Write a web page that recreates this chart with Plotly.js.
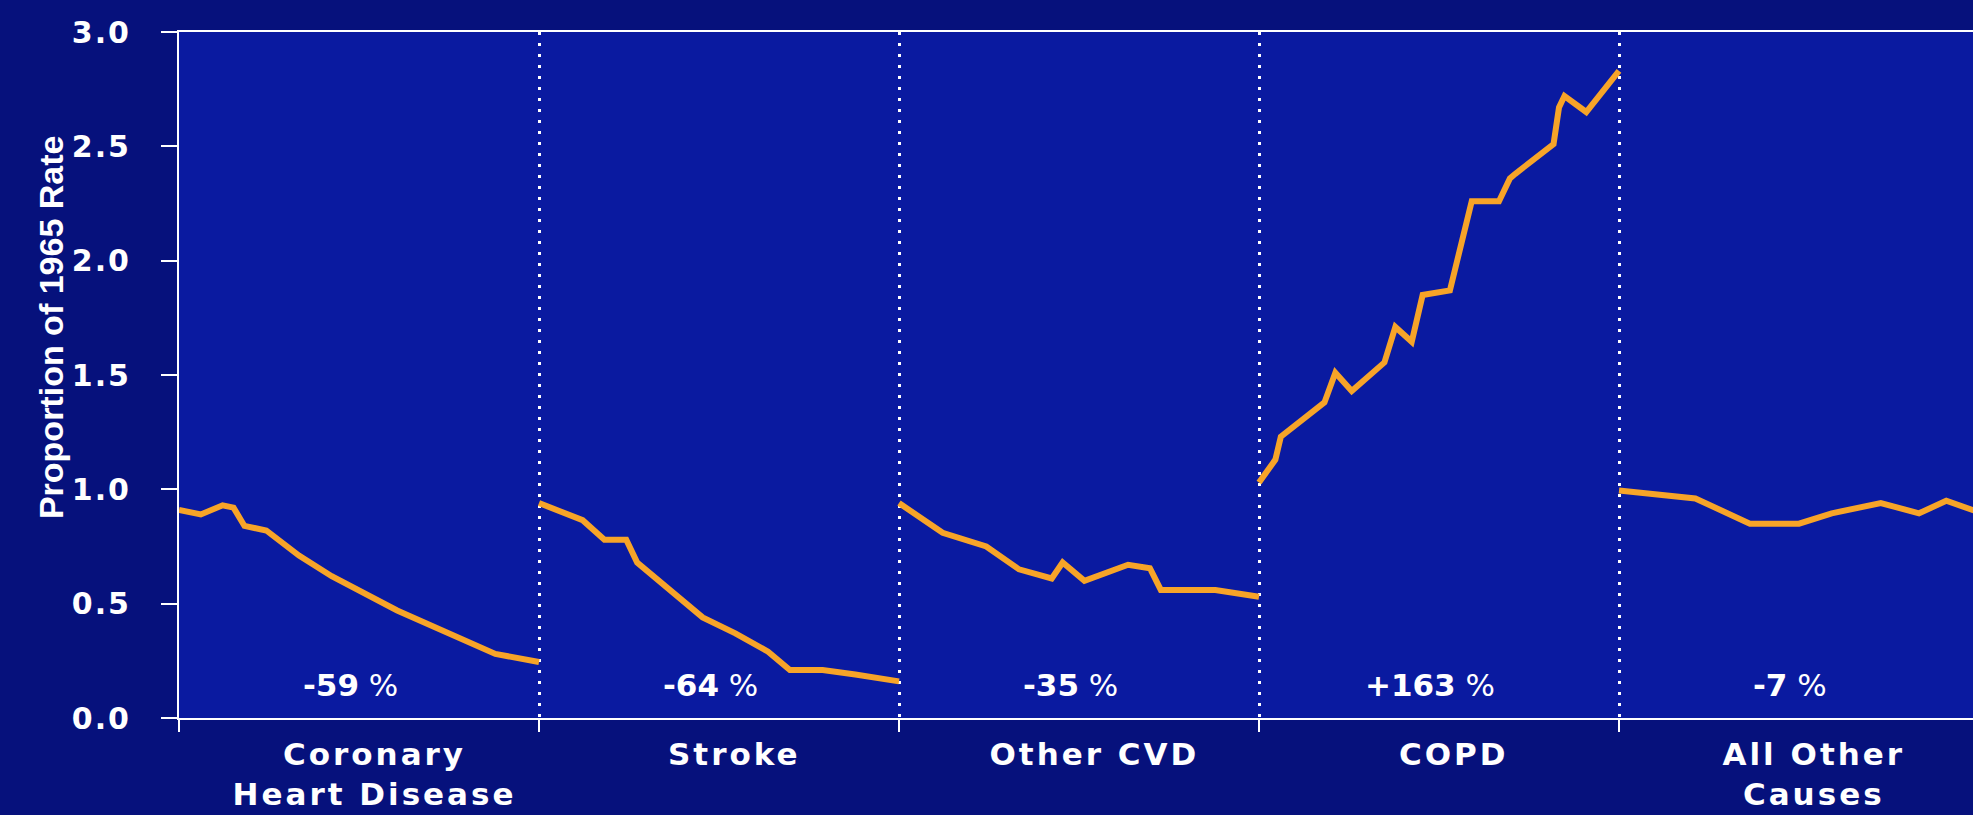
<!DOCTYPE html>
<html>
<head>
<meta charset="utf-8">
<script src="https://cdn.plot.ly/plotly-3.0.1.min.js"></script>
<style>
html, body { margin: 0; padding: 0; background: #06127e; }
#chart { width: 1973px; height: 815px; }
/* category labels are annotations 0-4, they are drawn wide */
.annotation[data-index="0"] text,
.annotation[data-index="1"] text,
.annotation[data-index="2"] text,
.annotation[data-index="3"] text,
.annotation[data-index="4"] text { letter-spacing: 3px; }
.ytick text { letter-spacing: 2px; }
</style>
</head>
<body>
<div id="chart"></div>
<script>
// categories and the change label shown in each panel
var causes = ["Coronary<br>Heart Disease", "Stroke", "Other CVD", "COPD", "All Other<br>Causes"];
var pctChange = ["-59", "-64", "-35", "+163", "-7"];

// proportion of the 1965 rate
var chdYears = [1965, 1967, 1969, 1970, 1971, 1973, 1976, 1979, 1985, 1991, 1994, 1998];
var chdRate = [0.91, 0.89, 0.93, 0.92, 0.84, 0.82, 0.71, 0.62, 0.47, 0.34, 0.28, 0.245];

var strokeYears = [1965, 1969, 1971, 1973, 1974, 1977, 1980, 1983, 1986, 1988, 1991, 1994, 1998];
var strokeRate = [0.94, 0.865, 0.78, 0.78, 0.68, 0.56, 0.44, 0.37, 0.29, 0.21, 0.21, 0.19, 0.16];

var cvdYears = [1965, 1969, 1973, 1976, 1979, 1980, 1982, 1986, 1988, 1989, 1994, 1998];
var cvdRate = [0.94, 0.81, 0.75, 0.65, 0.61, 0.68, 0.60, 0.67, 0.655, 0.56, 0.56, 0.53];

var copdYears = [1965, 1966.5, 1967, 1971, 1972, 1973.5, 1976.5, 1977.5, 1979, 1980, 1982.5, 1984.5, 1987, 1988, 1988.5, 1992, 1992.5, 1993, 1995, 1998];
var copdRate = [1.03, 1.13, 1.23, 1.38, 1.51, 1.43, 1.555, 1.71, 1.645, 1.85, 1.87, 2.26, 2.26, 2.36, 2.38, 2.51, 2.67, 2.72, 2.65, 2.83];

var otherYears = [1965, 1968, 1972, 1977, 1981.5, 1984.5, 1989, 1992.5, 1995, 1998];
var otherRate = [0.995, 0.98, 0.96, 0.85, 0.85, 0.895, 0.94, 0.895, 0.95, 0.90];

var allYears = [chdYears, strokeYears, cvdYears, copdYears, otherYears];
var allRates = [chdRate, strokeRate, cvdRate, copdRate, otherRate];

var startYear = 1965;
var span = 33; // 1965-1998, one panel each

var data = [];
allYears.forEach(function (yrs, i) {
  data.push({
    x: yrs.map(function (y) { return i * span + (y - startYear); }),
    y: allRates[i],
    type: "scatter",
    mode: "lines",
    line: { color: "#f7a428", width: 6 },
    hoverinfo: "skip"
  });
});

var bounds = causes.map(function (c, i) { return i * span; }).concat([causes.length * span]);
var centers = causes.map(function (c, i) { return i * span + span / 2; });
var xRange = [0, causes.length * span * 1794 / 1800];

// category names under the axis (indexes 0-4)
var annotations = causes.map(function (c, i) {
  return {
    x: centers[i], y: 0, xref: "x", yref: "paper",
    yanchor: "top", yshift: -16, xshift: 15,
    text: c, showarrow: false,
    font: { family: "DejaVu Sans", size: 31, color: "white", weight: "bold" }
  };
});
pctChange.forEach(function (p, i) {
  annotations.push({
    x: centers[i], y: 0.144, xref: "x", yref: "y",
    text: "<b>" + p + "</b> %",
    showarrow: false, xshift: -9,
    font: { family: "DejaVu Sans", size: 31, color: "white" }
  });
});
annotations.push({
  x: -0.083, y: 0.57, xref: "paper", yref: "paper",
  text: "Proportion of 1965 Rate",
  textangle: -90, showarrow: false,
  font: { family: "Liberation Sans", size: 34, color: "white", weight: "bold" }
});

var layout = {
  width: 1973, height: 815,
  margin: { l: 179, r: 0, t: 32, b: 97 },
  paper_bgcolor: "#06117c",
  plot_bgcolor: "#0a1aa0",
  showlegend: false,
  xaxis: {
    range: xRange,
    tickvals: bounds,
    showticklabels: false,
    ticks: "outside", ticklen: 12, tickwidth: 2, tickcolor: "white",
    showline: true, linecolor: "white", linewidth: 2, mirror: true,
    showgrid: true, gridcolor: "white", gridwidth: 3, griddash: "3px,8px",
    zeroline: false
  },
  yaxis: {
    range: [0, 3],
    tickvals: [0, 0.5, 1, 1.5, 2, 2.5, 3],
    tickformat: ".1f",
    ticks: "outside", ticklen: 16, tickwidth: 2, tickcolor: "white",
    showline: true, linecolor: "white", linewidth: 2,
    showgrid: false, zeroline: false,
    ticklabelstandoff: 24,
    tickfont: { family: "DejaVu Sans", size: 30, color: "white", weight: "bold" }
  },
  annotations: annotations
};

Plotly.newPlot("chart", data, layout, { displayModeBar: false, staticPlot: true });
</script>
</body>
</html>
